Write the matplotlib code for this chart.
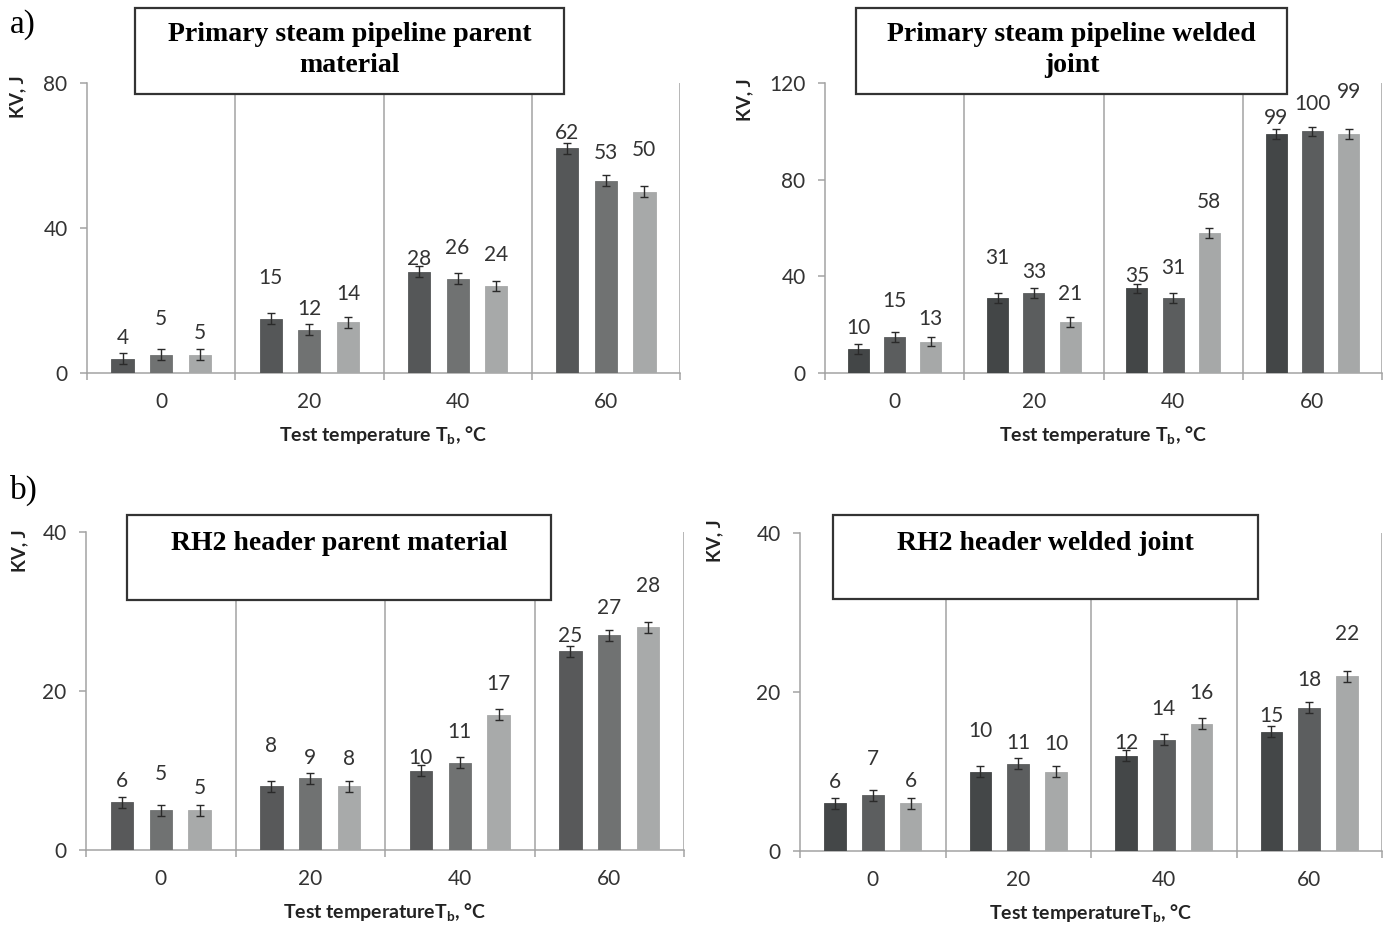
import matplotlib
matplotlib.use("Agg")
import matplotlib.pyplot as plt
from matplotlib.patches import Rectangle

plt.rcParams['font.family'] = ['Lato', 'DejaVu Sans']
plt.rcParams['mathtext.fontset'] = 'custom'
plt.rcParams['mathtext.rm'] = 'Lato'
plt.rcParams['mathtext.bf'] = 'Lato:bold'

W, H = 1392, 933

# test temperatures (categories) and impact energies KV, J (three specimens each)
temps = ['0', '20', '40', '60']
psp_parent = [[4, 5, 5], [15, 12, 14], [28, 26, 24], [62, 53, 50]]
psp_welded = [[10, 15, 13], [31, 33, 21], [35, 31, 58], [99, 100, 99]]
rh2_parent = [[6, 5, 5], [8, 9, 8], [10, 11, 17], [25, 27, 28]]
rh2_welded = [[6, 7, 6], [10, 11, 10], [12, 14, 16], [15, 18, 22]]

# scatter of each value (error bars)
err_psp_parent = 1.5
err_psp_welded = 2.0
err_rh2_parent = 0.7
err_rh2_welded = 0.7

# how far each value label sits above its bar, in points
label_lift = [[15, 26, 16], [29, 15, 20], [9, 22, 22], [11, 20, 30]]


def fx(x):
    return x / W


def fy(y):
    return 1 - y / H


def panel(fig, box, data, err, ymax, yticks, colors, title, title_box, title_y, xlabel, kv_pos):
    left, top, right, bottom = box
    ax = fig.add_axes([fx(left), fy(bottom), (right - left) / W, (bottom - top) / H])
    offsets = [-0.26, 0, 0.26]
    for j in range(3):
        xs = [i + offsets[j] for i in range(len(temps))]
        vals = [row[j] for row in data]
        ax.bar(xs, vals, width=0.15, color=colors[j], edgecolor=colors[j], linewidth=0.6, zorder=3)
        ax.errorbar(xs, vals, yerr=err, fmt='none', ecolor='#2a2a2a', elinewidth=1.0,
                    capsize=3.2, capthick=1.0, zorder=4)
        for i, (x, v) in enumerate(zip(xs, vals)):
            ax.annotate(str(v), (x, v), xytext=(0, label_lift[i][j]), textcoords='offset points',
                        ha='center', va='center', fontsize=15, color='#333333')
    for b in [0.5, 1.5, 2.5, 3.5]:
        ax.axvline(b, color='#a3a3a3', lw=1.1, zorder=1)
    ax.set_xlim(-0.5, 3.5)
    ax.set_ylim(0, ymax)
    ax.set_yticks(yticks)
    ax.set_xticks(range(len(temps)))
    ax.set_xticklabels(temps)
    ax.set_xticks([-0.5, 0.5, 1.5, 2.5, 3.5], minor=True)
    ax.tick_params(axis='x', which='major', length=0, pad=14, labelsize=15, labelcolor='#333333')
    ax.tick_params(axis='x', which='minor', length=5, width=1.1, color='#a3a3a3')
    ax.tick_params(axis='y', length=5, width=1.1, color='#a3a3a3', pad=9, labelsize=15,
                   labelcolor='#333333')
    for s in ['top', 'right']:
        ax.spines[s].set_visible(False)
    for s in ['left', 'bottom']:
        ax.spines[s].set_color('#a3a3a3')
        ax.spines[s].set_linewidth(1.1)
    ax.set_xlabel(xlabel, fontsize=14, fontweight='bold', color='#222222', labelpad=9)

    fig.text(fx(kv_pos[0]), fy(kv_pos[1]), 'KV, J', rotation=90, ha='center', va='center',
             fontsize=13.5, fontweight='bold', color='#222222')

    bl, bt, br, bb = title_box
    fig.add_artist(Rectangle((fx(bl), fy(bb)), (br - bl) / W, (bb - bt) / H,
                             transform=fig.transFigure, facecolor='white',
                             edgecolor='#333333', linewidth=1.6, zorder=5))
    fig.text(fx((bl + br) / 2), fy(title_y), title, ha='center', va='center',
             fontsize=20, fontweight='bold', family='Liberation Serif',
             linespacing=1.3, zorder=6)
    return ax


fig = plt.figure(figsize=(W / 100, H / 100), dpi=100)

panel(fig, (87, 83, 680, 373), psp_parent, err_psp_parent, 80, [0, 40, 80],
      ['#555758', '#707272', '#a7a9a9'],
      'Primary steam pipeline parent\nmaterial', (135, 8, 564, 94), 50,
      r'Test temperature T$_\mathbf{b}$, °C', (18, 97))

panel(fig, (825, 83, 1382, 373), psp_welded, err_psp_welded, 120, [0, 40, 80, 120],
      ['#434647', '#5b5d5e', '#a6a8a8'],
      'Primary steam pipeline welded\njoint', (856, 8, 1287, 94), 50,
      r'Test temperature T$_\mathbf{b}$, °C', (745, 100))

panel(fig, (86, 532, 684, 850), rh2_parent, err_rh2_parent, 40, [0, 20, 40],
      ['#58595a', '#707272', '#a8aaaa'],
      'RH2 header parent material', (127, 515, 551, 600), 543,
      r'Test temperatureT$_\mathbf{b}$, °C', (20, 551))

panel(fig, (800, 533, 1382, 851), rh2_welded, err_rh2_welded, 40, [0, 20, 40],
      ['#444748', '#5c5e5f', '#a7a9a9'],
      'RH2 header welded joint', (833, 515, 1258, 599), 543,
      r'Test temperatureT$_\mathbf{b}$, °C', (715, 541))

fig.text(fx(10), fy(25), 'a)', fontsize=24, family='Liberation Serif', va='center', ha='left')
fig.text(fx(10), fy(490), 'b)', fontsize=24, family='Liberation Serif', va='center', ha='left')

fig.savefig('out.png', dpi=100, facecolor='white')
